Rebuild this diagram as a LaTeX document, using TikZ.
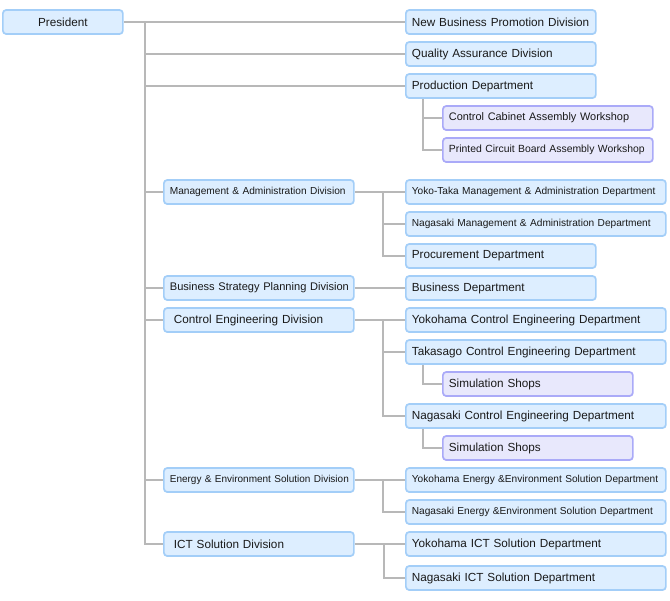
\documentclass[tikz,border=0pt]{standalone}
\usepackage{fontspec}
\setmainfont{Liberation Sans}
\usetikzlibrary{backgrounds}
\definecolor{bfill}{HTML}{DDEEFF}
\definecolor{bdraw}{HTML}{A3CEF8}
\definecolor{pfill}{HTML}{E8E8FC}
\definecolor{pdraw}{HTML}{AAAAF8}
\definecolor{lgray}{HTML}{B8B8B8}
\tikzset{
  box/.style={draw=bdraw, fill=bfill, line width=1.3pt, rounded corners=2.5pt,
    minimum height=18pt, inner xsep=4.5pt, inner ysep=0pt, anchor=west, align=left, text=black!90,
    execute at begin node=\hbox\bgroup, execute at end node=\egroup},
  pbox/.style={box, draw=pdraw, fill=pfill},
  wa/.style={text width=133.5pt},
  wb/.style={text width=186pt},
  wc/.style={text width=148.5pt},
  big/.style={font=\fontsize{8.8}{10}\selectfont},
  mid/.style={font=\fontsize{8.2}{10}\selectfont},
  small/.style={font=\fontsize{7.6}{10}\selectfont},
  conn/.style={draw=lgray, line width=1.5pt},
}
\begin{document}
\begin{tikzpicture}[x=0.75pt,y=-0.75pt]
\useasboundingbox (0,0) rectangle (670,600);
% nodes
\node[box,big,text width=81pt,align=center] (pres) at (2,22) {\hfill President\hfill};
\node[box,big,wa] (nbp) at (405,22) {New Business Promotion Division};
\node[box,big,wa] (qa) at (405,54) {Quality Assurance Division};
\node[box,big,wa] (prod) at (405,86) {Production Department};
\node[pbox,mid,wc] (ccw) at (442,118) {Control Cabinet Assembly Workshop};
\node[pbox,wc,font=\fontsize{7.8}{10}\selectfont] (pcb) at (442,150) {Printed Circuit Board Assembly Workshop};
\node[box,small,wa] (mad) at (163,192) {Management \& Administration Division};
\node[box,small,wb] (ytm) at (405,192) {Yoko-Taka Management \& Administration Department};
\node[box,small,wb] (nmad) at (405,224) {Nagasaki Management \& Administration Department};
\node[box,big,wa] (proc) at (405,256) {Procurement Department};
\node[box,wa,font=\fontsize{8.3}{10}\selectfont] (bsp) at (163,288) {Business Strategy Planning Division};
\node[box,big,wa] (bd) at (405,288) {Business Department};
\node[box,big,wa] (ced) at (163,320) {\hspace{3pt}Control Engineering Division};
\node[box,big,wb] (yce) at (405,320) {Yokohama Control Engineering Department};
\node[box,big,wb] (tce) at (405,352) {Takasago Control Engineering Department};
\node[pbox,big,wa] (ss1) at (442,384) {Simulation Shops};
\node[box,big,wb] (nce) at (405,416) {Nagasaki Control Engineering Department};
\node[pbox,big,wa] (ss2) at (442,448) {Simulation Shops};
\node[box,wa,font=\fontsize{7.5}{10}\selectfont] (eed) at (163,480) {Energy \& Environment Solution Division};
\node[box,small,wb] (yee) at (405,480) {Yokohama Energy \&Environment Solution Department};
\node[box,small,wb] (nee) at (405,512) {Nagasaki Energy \&Environment Solution Department};
\node[box,big,wa] (ict) at (163,544) {\hspace{3pt}ICT Solution Division};
\node[box,big,wb] (yict) at (405,544) {Yokohama ICT Solution Department};
\node[box,big,wb] (nict) at (405,578) {Nagasaki ICT Solution Department};
% junctions
\coordinate (t0) at (145,22);
\coordinate (pj) at (423,99);
\coordinate (mj) at (383,192);
\coordinate (cj) at (383,320);
\coordinate (tj) at (423,365);
\coordinate (nj) at (423,429);
\coordinate (ej) at (383,480);
\coordinate (ij) at (384,544);
% connectors
\begin{scope}[on background layer]
\draw[conn] (pres.east) -- (nbp.west);
\draw[conn] (t0) |- (qa.west);
\draw[conn] (t0) |- (prod.west);
\draw[conn] (t0) |- (mad.west);
\draw[conn] (t0) |- (bsp.west);
\draw[conn] (t0) |- (ced.west);
\draw[conn] (t0) |- (eed.west);
\draw[conn] (t0) |- (ict.west);
\draw[conn] (pj) |- (ccw.west);
\draw[conn] (pj) |- (pcb.west);
\draw[conn] (mad.east) -- (ytm.west);
\draw[conn] (mj) |- (nmad.west);
\draw[conn] (mj) |- (proc.west);
\draw[conn] (bsp.east) -- (bd.west);
\draw[conn] (ced.east) -- (yce.west);
\draw[conn] (cj) |- (tce.west);
\draw[conn] (cj) |- (nce.west);
\draw[conn] (tj) |- (ss1.west);
\draw[conn] (nj) |- (ss2.west);
\draw[conn] (eed.east) -- (yee.west);
\draw[conn] (ej) |- (nee.west);
\draw[conn] (ict.east) -- (yict.west);
\draw[conn] (ij) |- (nict.west);
\end{scope}
\end{tikzpicture}
\end{document}
